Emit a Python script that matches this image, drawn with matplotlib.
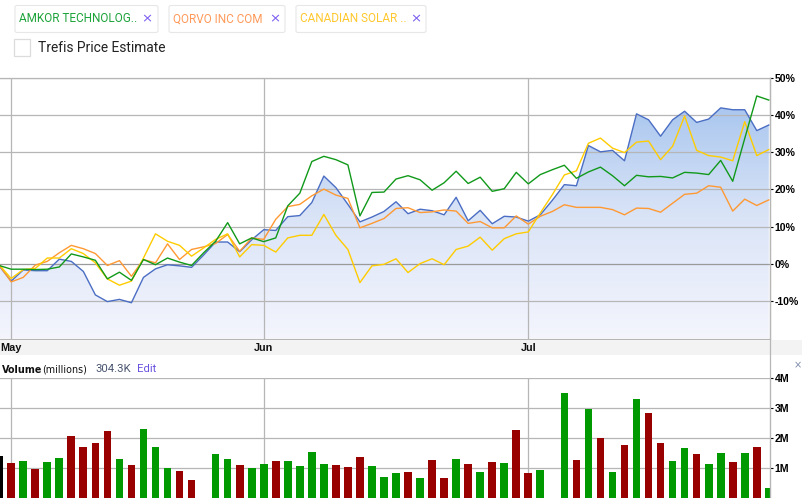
import numpy as np
import matplotlib
matplotlib.use("Agg")
import matplotlib.pyplot as plt
from matplotlib.colors import LinearSegmentedColormap
from matplotlib.patches import FancyBboxPatch, Rectangle
from matplotlib.lines import Line2D
import matplotlib.transforms as mtransforms

# ---------------- data ----------------
# trading-day slots from Apr 30 (index -1) to Jul 29 (index 63); holidays keep a slot
day_index = list(range(-1, 64))
month_ticks = [0, 21, 43]
month_labels = ["May", "Jun", "Jul"]

# % change series
main_pct = [-0.5, -4.6, -1.6, -1.8, -1.8, 1.3, 0.7, -2.0, -8.3, -10.1, -9.5, -10.4, -3.6,
            -1.3, -0.2, -0.5, -0.9, 2.4, 5.9, 5.9, 3.3, 6.5, 9.2, 9.0, 12.7, 13.0, 16.5,
            23.6, 20.5, 16.0, 11.3, 12.6, 14.1, 16.7, 13.5, 14.7, 14.3, 13.2, 17.9, 11.6,
            14.4, 10.8, 12.8, 12.6, 11.5, 13.2, 17.1, 21.3, 21.0, 31.8, 30.1, 30.5, 27.7,
            40.3, 38.7, 34.3, 38.7, 41.0, 38.0, 38.9, 41.9, 41.4, 41.4, 35.8, 37.3]
amkor_pct = [-0.4, -1.4, -1.4, -1.5, -1.4, -0.8, 2.7, 1.9, 1.0, -4.0, -2.2, -4.4, 1.2,
             -0.2, 1.6, 0.5, -0.4, 3.0, 6.1, 11.1, 5.4, 7.0, 6.0, 7.0, 15.6, 19.0, 27.5,
             28.9, 28.0, 26.6, 12.9, 19.2, 19.3, 22.8, 23.7, 22.6, 19.8, 21.8, 24.9, 21.6,
             23.3, 19.5, 20.2, 24.6, 21.5, 24.0, 25.3, 26.5, 23.0, 24.7, 26.0, 23.7, 21.0,
             23.8, 23.4, 23.5, 23.1, 24.6, 24.4, 24.0, 27.8, 22.2, 33.7, 45.1, 44.0]
qorvo_pct = [-0.3, -4.8, -3.6, -0.3, 0.7, 3.0, 5.0, 4.1, 2.8, -0.4, 0.9, -3.3, 1.2,
             0.3, 5.4, 1.2, 3.9, 4.6, 5.5, 7.9, 3.4, 7.0, 6.6, 12.0, 15.4, 16.0, 18.3,
             20.1, 18.5, 17.6, 9.7, 10.9, 12.2, 14.9, 15.1, 13.8, 14.0, 14.5, 14.2, 10.9,
             11.4, 9.7, 9.7, 12.9, 10.7, 12.8, 14.1, 15.9, 15.2, 15.2, 15.2, 14.6, 13.2,
             15.0, 14.9, 13.9, 16.3, 18.7, 19.0, 21.0, 20.6, 14.2, 17.4, 15.7, 17.2]
csiq_pct = [-0.2, -3.9, -1.5, -1.2, 1.6, 1.6, 4.1, 2.8, 0.3, -4.0, -5.7, -4.6, 1.6,
            8.1, 6.1, 5.0, 2.1, 4.3, 6.6, 8.1, 1.9, 5.2, 5.0, 3.2, 7.0, 7.7, 7.7,
            13.3, 7.7, 3.9, -5.0, -0.5, -0.1, 1.4, -2.3, 0.1, 1.4, -0.2, 3.9, 4.8,
            7.2, 3.7, 6.8, 8.1, 8.6, 13.7, 18.6, 23.9, 25.0, 32.4, 33.8, 31.1, 29.9,
            32.7, 33.0, 28.0, 31.6, 39.7, 30.5, 29.1, 28.7, 27.7, 38.2, 29.1, 30.7]

# volume (millions); nan = market holiday
volume_m = [1.38, 1.15, 1.21, 0.95, 1.18, 1.31, 2.05, 1.68, 1.81, 2.22, 1.28, 1.08, 2.28,
            1.68, 0.98, 0.88, 0.58, np.nan, 1.45, 1.28, 1.08, 0.98, 1.11, 1.21, 1.21, 1.05,
            1.51, 1.11, 1.08, 1.01, 1.35, 1.05, 0.68, 0.81, 0.85, 0.65, 1.25, 0.65, 1.28,
            1.11, 0.85, 1.18, 1.15, 2.25, 0.81, 0.91, np.nan, 3.49, 1.25, 2.95, 1.98, 0.85,
            1.75, 3.29, 2.82, 1.82, 1.21, 1.65, 1.45, 1.11, 1.48, 1.18, 1.48, 1.68, 0.31]
# 'u' up day, 'd' down day, 'n' neutral / none
volume_dir = ['n', 'd', 'u', 'd', 'u', 'u', 'd', 'd', 'd', 'd', 'u', 'd', 'u',
              'u', 'u', 'd', 'd', 'n', 'u', 'u', 'd', 'u', 'u', 'd', 'u', 'u',
              'u', 'u', 'd', 'd', 'd', 'u', 'u', 'u', 'd', 'u', 'd', 'd', 'u',
              'd', 'u', 'd', 'u', 'd', 'd', 'u', 'n', 'u', 'd', 'u', 'd', 'u',
              'd', 'u', 'd', 'd', 'u', 'u', 'd', 'u', 'u', 'd', 'u', 'd', 'u']

pct_ticks = [-10, 0, 10, 20, 30, 40, 50]
vol_ticks = [1, 2, 3, 4]

# ---------------- figure ----------------
W, H = 803, 498
fig = plt.figure(figsize=(W / 100, H / 100), dpi=100)
fig.patch.set_facecolor("white")


def fx(px):
    return px / W


def fy(py):
    return 1 - py / H


x = np.array(day_index, dtype=float)
XMIN, XMAX = -0.93, 63.1
GRID = "#b6b6b6"
TICKFONT = dict(family="Liberation Sans", weight="bold", size=7.6)

# ---- main price axes ----
ax = fig.add_axes([0, fy(338.5), fx(770), (338.5 - 77.7) / H])
ax.set_facecolor("white")

cmap = LinearSegmentedColormap.from_list("grad", ["#f4f5fd", "#dae4f7", "#a5c4ee"])
poly = ax.fill_between(x, main_pct, -30, facecolor="none", edgecolor="none")
grad = np.linspace(0, 1, 256).reshape(-1, 1)
im = ax.imshow(grad, extent=[XMIN, XMAX, -20, 45], origin="lower", aspect="auto",
               cmap=cmap, zorder=1, interpolation="bicubic")
im.set_clip_path(poly.get_paths()[0], transform=ax.transData)

for t in pct_ticks:
    ax.axhline(t, color="#9a9a9a" if t == 0 else GRID, lw=0.9, zorder=2)
for m in month_ticks:
    ax.axvline(m, color=GRID, lw=0.9, zorder=2)

ax.plot(x, main_pct, color="#4b6ec4", lw=1.0, zorder=4)
ax.plot(x, qorvo_pct, color="#ff9933", lw=1.0, zorder=5)
ax.plot(x, csiq_pct, color="#ffcc00", lw=1.0, zorder=6)
ax.plot(x, amkor_pct, color="#11991a", lw=1.0, zorder=7)

ax.set_xlim(XMIN, XMAX)
ax.set_ylim(-20, 50)
ax.set_xticks([])
ax.yaxis.tick_right()
ax.set_yticks(pct_ticks)
ax.set_yticklabels([f"{t}%" for t in pct_ticks])
ax.tick_params(axis="y", length=2, width=0.8, pad=1.5, colors="black")
for lab in ax.get_yticklabels():
    lab.set_fontproperties(matplotlib.font_manager.FontProperties(**TICKFONT))
ax.spines["left"].set_visible(False)
for s in ["top", "bottom", "right"]:
    ax.spines[s].set_color(GRID)
    ax.spines[s].set_linewidth(0.9)

# ---- x label band ----
fig.patches.append(Rectangle((0, fy(354.5)), fx(802), 14.5 / H, transform=fig.transFigure,
                             facecolor="#f2f3f2", edgecolor="none", zorder=0))
trans_band = mtransforms.blended_transform_factory(ax.transData, fig.transFigure)
for m, lab in zip(month_ticks, month_labels):
    fig.text(m, fy(347.5), lab, transform=trans_band, ha="center", va="center",
             fontsize=7.8, fontweight="bold", family="Liberation Sans", color="#111111")

# ---- volume axes ----
vax = fig.add_axes([0, fy(497.5), fx(770), (497.5 - 377.7) / H])
vax.set_facecolor("white")
for t in vol_ticks:
    vax.axhline(t, color=GRID, lw=0.9, zorder=1)
for m in month_ticks:
    vax.axvline(m, color=GRID, lw=0.9, zorder=1)
colmap = {"u": "#009900", "d": "#990000", "n": "#000000"}
vax.bar(x, np.nan_to_num(volume_m), width=0.64, color=[colmap[d] for d in volume_dir],
        zorder=3, linewidth=0)
vax.set_xlim(XMIN, XMAX)
vax.set_ylim(0, 4)
vax.set_xticks([])
vax.yaxis.tick_right()
vax.set_yticks(vol_ticks)
vax.set_yticklabels([f"{t}M" for t in vol_ticks])
vax.tick_params(axis="y", length=2, width=0.8, pad=1.5, colors="black")
for lab in vax.get_yticklabels():
    lab.set_fontproperties(matplotlib.font_manager.FontProperties(**TICKFONT))
for s in ["left", "top", "bottom"]:
    vax.spines[s].set_visible(False)
vax.spines["right"].set_color(GRID)

# continuous right border line
fig.lines.append(Line2D([fx(770), fx(770)], [fy(77.7), 0], transform=fig.transFigure,
                        color=GRID, lw=0.9))

# volume header
fig.text(fx(2), fy(369.5), "Volume", fontsize=6.9, fontweight="bold", family="DejaVu Sans",
         color="#111111", va="center")
fig.text(fx(42.5), fy(369.5), "(millions)", fontsize=6.9, family="DejaVu Sans",
         color="#111111", va="center")
fig.text(fx(95.5), fy(369), "304.3K", fontsize=8.2, family="Roboto", color="#4a5570",
         va="center")
fig.text(fx(137), fy(369), "Edit", fontsize=8.2, family="Roboto", color="#6a52e0",
         va="center")
fig.text(fx(798), fy(365), "×", fontsize=7, family="DejaVu Sans", color="#7a8aa8",
         va="center", ha="center")

# ---- top legend chips ----
chips = [
    (15, 158, "AMKOR TECHNOLOG..", "#1ca33a", 147),
    (169, 285, "QORVO INC COM", "#ff9a5a", 274.5),
    (296, 426, "CANADIAN SOLAR ..", "#ffc82e", 415.5),
]
for x0, x1, label, col, xx in chips:
    fig.patches.append(FancyBboxPatch((fx(x0), fy(32.5)), fx(x1 - x0), 27 / H,
                                      boxstyle="round,pad=0,rounding_size=0.003",
                                      transform=fig.transFigure, facecolor="white",
                                      edgecolor="#e7e7e7", lw=0.8))
    fig.text(fx(x0 + 4), fy(19), label, fontsize=8.5, family="Roboto", color=col,
             va="center", ha="left")
    fig.text(fx(xx), fy(19), "×", fontsize=9.5, family="DejaVu Sans", color="#7a5cf0",
             va="center", ha="center")

fig.patches.append(Rectangle((fx(13.5), fy(56.5)), fx(17), 17 / H, transform=fig.transFigure,
                             facecolor="white", edgecolor="#dcdcdc", lw=0.9))
fig.text(fx(38), fy(48), "Trefis Price Estimate", fontsize=9.9, family="Roboto",
         color="#222222", va="center", ha="left")

fig.savefig("out.png", dpi=100)
